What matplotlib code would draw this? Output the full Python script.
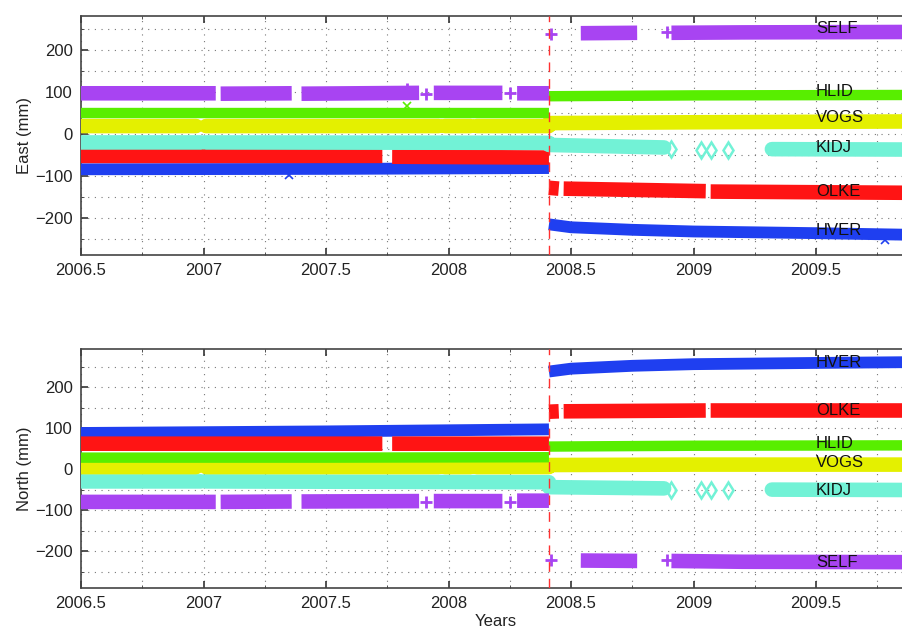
import numpy as np
import matplotlib
matplotlib.use('Agg')
import matplotlib.pyplot as plt
from matplotlib.ticker import MultipleLocator

nan = np.nan
plt.rcParams['font.family'] = ['Liberation Sans', 'DejaVu Sans']

# decimal-year epochs of each station's data (nan = gap), shared by both components
self_t = [2006.45, 2007.05, nan, 2007.07, 2007.36, nan, 2007.40, 2007.88, nan, 2007.94, 2008.22,
          nan, 2008.28, 2008.41, nan, 2008.54, 2008.77, nan, 2008.91, 2009.2, 2009.9]
hlid_t = [2006.45, 2007.5, 2008.41, nan, 2008.41, 2009.0, 2009.9]
vogs_t = [2006.45, 2006.97, nan, 2007.01, 2007.96, nan, 2007.985, 2008.09, nan, 2008.115, 2008.41,
          nan, 2008.41, 2009.0, 2009.9]
kidj_t = [2006.45, 2006.99, nan, 2007.01, 2008.41, nan, 2008.41, 2008.88, nan, 2009.32, 2009.9]
olke_t = [2006.45, 2007.73, nan, 2007.77, 2008.41, nan, 2008.41, 2008.45, nan, 2008.47, 2009.05,
          nan, 2009.07, 2009.9]
hver_t = [2006.45, 2007.5, 2008.41, nan, 2008.41, 2008.5, 2008.75, 2009.0, 2009.5, 2009.9]

# East offsets (mm)
self_e = [97, 97, nan, 96, 97, nan, 96, 98, nan, 98, 98, nan, 97, 97, nan, 240, 241, nan, 241, 242, 243]
hlid_e = [50, 50, 50, nan, 90, 92, 93]
vogs_e = [19, 19, nan, 19, 19, nan, 19, 19, nan, 19, 19, nan, 26, 28, 30]
kidj_e = [-20, -20, nan, -20, -21, nan, -26, -32, nan, -36, -37]
olke_e = [-52, -52, nan, -54, -56, nan, -128, -130, nan, -130, -136, nan, -137, -140]
hver_e = [-84, -83, -81, nan, -215, -222, -228, -232, -236, -240]

# North offsets (mm)
self_n = [-80, -80, nan, -80, -79, nan, -79, -78, nan, -78, -78, nan, -77, -77, nan, -223, -224, nan, -224, -226, -227]
hlid_n = [28, 28, 29, nan, 55, 57, 58]
vogs_n = [5, 5, nan, 5, 5, nan, 5, 5, nan, 5, 5, nan, 10, 11, 11]
kidj_n = [-30, -30, nan, -30, -32, nan, -44, -47, nan, -50, -51]
olke_n = [62, 62, nan, 62, 62, nan, 140, 141, nan, 141, 143, nan, 143, 143]
hver_n = [88, 92, 97, nan, 238, 245, 252, 256, 259, 261]

# isolated epochs
self_iso_t = [2007.83, 2007.91, 2008.25, 2008.42, 2008.89]
self_iso_e = [108, 95, 97, 238, 242]
self_iso_n = [-78, -80, -79, -222, -221]
kidj_iso_t = [2008.91, 2009.03, 2009.07, 2009.14]
kidj_iso_e = [-35, -37, -37, -37]
kidj_iso_n = [-50, -52, -52, -52]
# a few outliers in the East component
hver_out_t = [2007.35, 2009.78]
hver_out_e = [-98, -253]
hlid_out_t = [2007.83]
hlid_out_e = [66]

quake = 2008.41

names = ['HVER', 'OLKE', 'KIDJ', 'VOGS', 'HLID', 'SELF']
colors = ['#1f3ff0', '#ff1414', '#72f2d6', '#e4f000', '#58ee00', '#a844f2']
widths = [8.5, 10.5, 10.5, 10.5, 7.5, 10.5]
times = [hver_t, olke_t, kidj_t, vogs_t, hlid_t, self_t]
east = [hver_e, olke_e, kidj_e, vogs_e, hlid_e, self_e]
north = [hver_n, olke_n, kidj_n, vogs_n, hlid_n, self_n]

# label positions (mm) at 2009.5
lab_e = [-229, -138, -31, 40, 102, 252]
lab_n = [261, 144, -51, 15, 63, -227]

fig = plt.figure(figsize=(9.02, 6.31), dpi=100)
W = 830 / 902.0
ax1 = fig.add_axes([81 / 902.0, 1 - 255 / 631.0, W, 239 / 631.0])
ax2 = fig.add_axes([81 / 902.0, 1 - 588 / 631.0, W, 239 / 631.0])

for ax, vals, labs, iso_s, iso_k, ylim in [
        (ax1, east, lab_e, self_iso_e, kidj_iso_e, (-288, 281)),
        (ax2, north, lab_n, self_iso_n, kidj_iso_n, (-290, 293))]:
    for nm, c, lw, t, v, ly in zip(names, colors, widths, times, vals, labs):
        cap = 'round' if nm in ('VOGS', 'KIDJ') else 'butt'
        ax.plot(t, v, '-', color=c, lw=lw, solid_capstyle=cap, zorder=3)
        ax.text(2009.5, ly, nm, fontsize=12, color='#111111', va='center', ha='left', zorder=5)
    ax.plot(self_iso_t, iso_s, '+', color=colors[5], ms=9, mew=2, zorder=3)
    ax.plot(kidj_iso_t, iso_k, 'd', color=colors[2], mfc='none', ms=8, mew=1.8, zorder=3)
    ax.axvline(quake, color='#ff3030', ls=(0, (7, 5)), lw=1.0, zorder=4)

    ax.set_xlim(2006.5, 2006.5 + 830 / 245.0)
    ax.set_ylim(*ylim)
    ax.xaxis.set_major_locator(MultipleLocator(0.5))
    ax.xaxis.set_minor_locator(MultipleLocator(0.25))
    ax.yaxis.set_major_locator(MultipleLocator(100))
    ax.yaxis.set_minor_locator(MultipleLocator(50))
    ax.xaxis.set_major_formatter(matplotlib.ticker.FuncFormatter(lambda x, p: ('%g' % x)))
    ax.grid(True, which='both', color='#777777', ls=(0, (1, 5)), lw=0.8)
    ax.tick_params(which='both', direction='in', top=True, right=False, colors='#333333',
                   labelsize=12, labelcolor='#222222', pad=6)
    ax.tick_params(which='major', length=5, width=1.2)
    ax.tick_params(which='minor', length=2.5)
    for s in ax.spines.values():
        s.set_color('#444444')
        s.set_linewidth(1.2)
    ax.set_axisbelow(True)

ax1.plot(hver_out_t, hver_out_e, 'x', color=colors[0], ms=6, mew=1.2, zorder=3)
ax1.plot(hlid_out_t, hlid_out_e, 'x', color=colors[4], ms=6, mew=1.2, zorder=3)

ax1.set_ylabel('East (mm)', fontsize=12, color='#222222', labelpad=2)
ax2.set_ylabel('North (mm)', fontsize=12, color='#222222', labelpad=2)
ax2.set_xlabel('Years', fontsize=12, color='#222222', labelpad=2)

fig.savefig('out.png', dpi=100)
